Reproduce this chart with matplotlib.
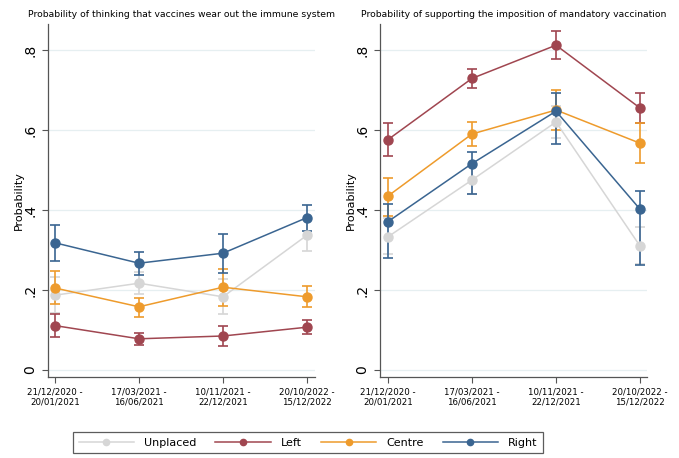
import matplotlib
matplotlib.use("Agg")
import matplotlib.pyplot as plt
from matplotlib.lines import Line2D
import numpy as np

periods = ["21/12/2020 -\n20/01/2021", "17/03/2021 -\n16/06/2021",
           "10/11/2021 -\n22/12/2021", "20/10/2022 -\n15/12/2022"]
groups = ["Unplaced", "Left", "Centre", "Right"]
colors = ["#d6d6d6", "#a04650", "#ee9b2c", "#3a6591"]

# Panel 1: vaccines wear out immune system
p1_est = {
    "Unplaced": [0.187, 0.217, 0.183, 0.337],
    "Left":     [0.111, 0.078, 0.085, 0.107],
    "Centre":   [0.205, 0.158, 0.207, 0.183],
    "Right":    [0.318, 0.267, 0.292, 0.381],
}
p1_lo = {
    "Unplaced": [0.142, 0.190, 0.140, 0.298],
    "Left":     [0.083, 0.063, 0.060, 0.089],
    "Centre":   [0.164, 0.133, 0.159, 0.157],
    "Right":    [0.273, 0.238, 0.243, 0.348],
}
p1_hi = {
    "Unplaced": [0.233, 0.245, 0.228, 0.375],
    "Left":     [0.140, 0.093, 0.110, 0.124],
    "Centre":   [0.247, 0.181, 0.253, 0.209],
    "Right":    [0.363, 0.294, 0.340, 0.413],
}

# Panel 2: supporting mandatory vaccination
p2_est = {
    "Unplaced": [0.333, 0.475, 0.620, 0.310],
    "Left":     [0.576, 0.729, 0.812, 0.655],
    "Centre":   [0.435, 0.590, 0.650, 0.567],
    "Right":    [0.371, 0.516, 0.647, 0.402],
}
p2_lo = {
    "Unplaced": [0.290, 0.440, 0.580, 0.265],
    "Left":     [0.534, 0.706, 0.777, 0.617],
    "Centre":   [0.386, 0.560, 0.600, 0.518],
    "Right":    [0.281, 0.440, 0.566, 0.262],
}
p2_hi = {
    "Unplaced": [0.380, 0.510, 0.660, 0.358],
    "Left":     [0.617, 0.752, 0.847, 0.692],
    "Centre":   [0.480, 0.620, 0.700, 0.617],
    "Right":    [0.414, 0.545, 0.693, 0.448],
}

titles = ["Probability of thinking that vaccines wear out the immune system",
          "Probability of supporting the imposition of mandatory vaccination"]
yticks = [0, 0.2, 0.4, 0.6, 0.8]
yticklabels = ["0", ".2", ".4", ".6", ".8"]

W, H = 679, 458
fig = plt.figure(figsize=(W / 100, H / 100), dpi=100)

def add_ax(x0, x1, y0, y1):
    return fig.add_axes([x0 / W, 1 - y1 / H, (x1 - x0) / W, (y1 - y0) / H])

axes = [add_ax(48, 315, 24, 377), add_ax(380, 647, 24, 377)]
xlims = [(1 - 7 / 84, 4 + 8 / 84), (1 - 8 / 84, 4 + 7 / 84)]
data = [(p1_est, p1_lo, p1_hi), (p2_est, p2_lo, p2_hi)]
x = np.arange(1, 5)

for ax, (est, lo, hi), title, xl in zip(axes, data, titles, xlims):
    for g, c in zip(groups, colors):
        e = np.array(est[g]); l = np.array(lo[g]); h = np.array(hi[g])
        ax.errorbar(x, e, yerr=[e - l, h - e], fmt="none", ecolor=c,
                    elinewidth=1.2, capsize=3.5, capthick=1.2, zorder=3)
        ax.plot(x, e, "-", color=c, lw=1.1, zorder=4)
        ax.plot(x, e, "o", color=c, ms=6.5, mec=c, zorder=5)
    ax.set_xlim(*xl)
    ax.set_ylim(-0.0175, 0.865)
    ax.set_xticks(x)
    ax.set_xticklabels(periods, fontsize=6.2)
    ax.set_yticks(yticks)
    ax.set_yticklabels(yticklabels, rotation=90, va="center", fontsize=10)
    ax.grid(axis="y", color="#e6eff1", lw=0.9, zorder=0)
    ax.set_axisbelow(True)
    for s in ["top", "right"]:
        ax.spines[s].set_visible(False)
    for s in ["left", "bottom"]:
        ax.spines[s].set_color("#555555")
        ax.spines[s].set_linewidth(0.9)
    ax.tick_params(axis="both", colors="#555555", labelcolor="black", length=4, width=0.8)
    ax.set_ylabel("Probability", fontsize=8)
    ax.yaxis.set_label_coords(-0.09, 0.5)
    ax.set_title(title, fontsize=6.7, pad=5)

handles = [Line2D([0], [0], color=c, lw=1.1, marker="o", ms=4.5) for c in colors]
leg = fig.legend(handles, groups, loc="upper left",
                 bbox_to_anchor=(73 / W, 1 - 432 / H), ncol=4, fontsize=8,
                 frameon=True, fancybox=False, edgecolor="#333333",
                 handlelength=5.0, columnspacing=1.7, handletextpad=0.9,
                 borderpad=0.5, borderaxespad=0)
leg.get_frame().set_linewidth(0.9)

fig.savefig("out.png", dpi=100)
